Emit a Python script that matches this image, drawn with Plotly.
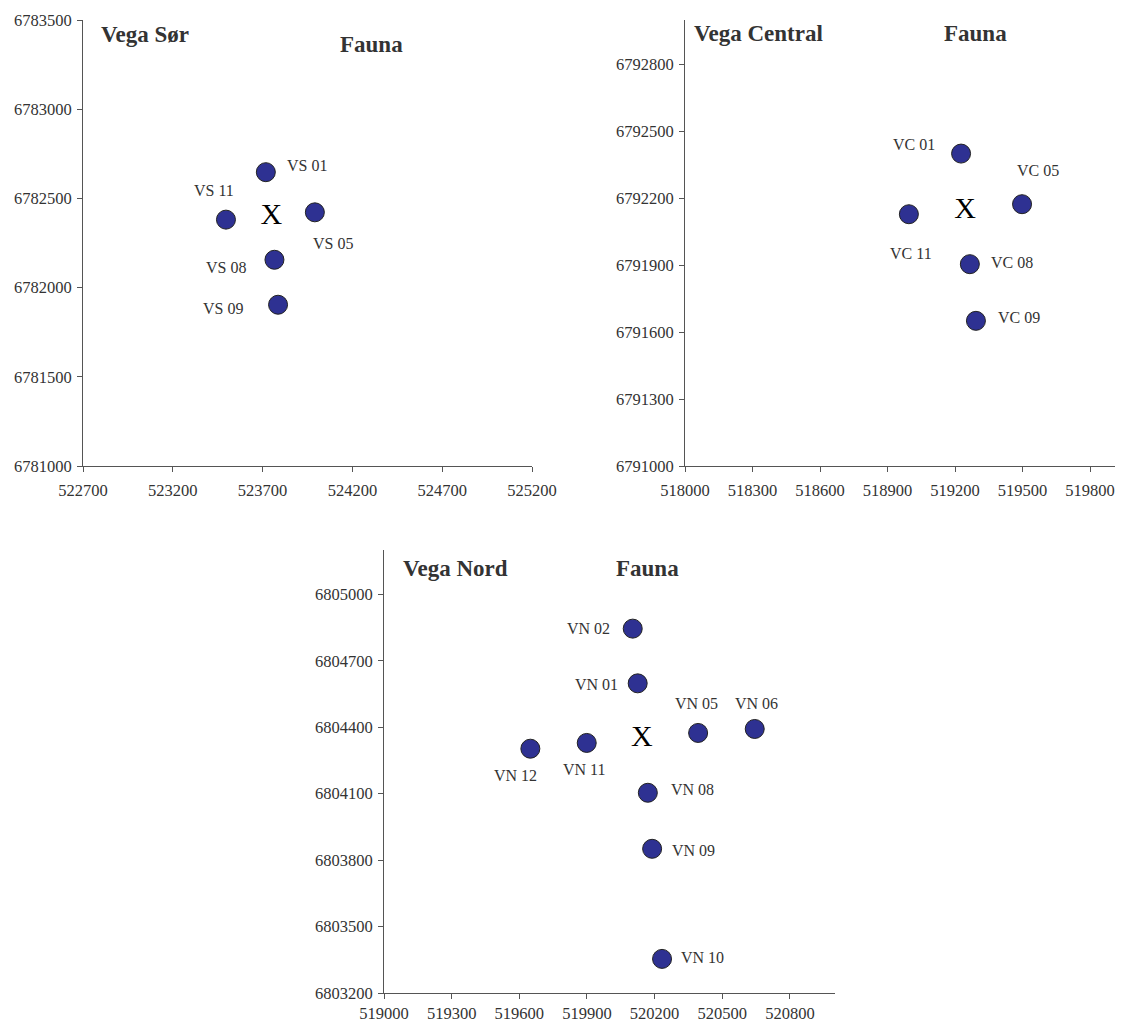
import plotly.graph_objects as go

# ---------------- data ----------------
vs_labels = ["VS 01", "VS 05", "VS 08", "VS 09", "VS 11"]
vs_x = [523718, 523991, 523766, 523786, 523496]
vs_y = [6782647, 6782422, 6782156, 6781904, 6782381]
vs_center_x = [523748]
vs_center_y = [6782396]

vc_labels = ["VC 01", "VC 05", "VC 08", "VC 09", "VC 11"]
vc_x = [519227, 519498, 519266, 519293, 518995]
vc_y = [6792401, 6792174, 6791905, 6791651, 6792129]
vc_center_x = [519245]
vc_center_y = [6792144]

vn_labels = ["VN 01", "VN 02", "VN 05", "VN 06", "VN 08", "VN 09", "VN 10", "VN 11", "VN 12"]
vn_x = [520125, 520103, 520393, 520644, 520170, 520189, 520233, 519899, 519649]
vn_y = [6804598, 6804845, 6804374, 6804392, 6804104, 6803851, 6803354, 6804329, 6804303]
vn_center_x = [520143]
vn_center_y = [6804347]

panel_names = ["Vega Sør", "Vega Central", "Vega Nord"]
panel_subtitle = "Fauna"

# ---------------- style ----------------
W, H = 1123, 1024
OFF = 8  # default page body margin
FONT = "Liberation Serif"
TXT = "#333333"
AX = "#555555"
MARK = "#2E3192"

# label offsets in pixels (dx right, dy down)
vs_off = [(41, -7), (18, 31), (-48, 8), (-55, 4), (-12, -29)]
vc_off = [(-47, -9), (16, -34), (42, -2), (43, -3), (2, 39)]
vn_off = [(-41, 1), (-44, 0), (-2, -29), (2, -25), (45, -3), (41, 2), (40, -1), (-2, 27), (-15, 27)]

def px_x(p):
    return (p - OFF) / W

def px_y(p):
    return 1 - (p - OFF) / H

panels = [
    dict(xs=vs_x, ys=vs_y, labels=vs_labels, off=vs_off, cx=vs_center_x, cy=vs_center_y,
         xdom=[px_x(83), px_x(532)], ydom=[px_y(466), px_y(20)],
         xr=[522700, 525200], yr=[6781000, 6783500], xt0=522700, xd=500, yt0=6781000, yd=500,
         xstand=4, title_pos=(99, 34), fauna_pos=(371, 44)),
    dict(xs=vc_x, ys=vc_y, labels=vc_labels, off=vc_off, cx=vc_center_x, cy=vc_center_y,
         xdom=[px_x(685), px_x(1123)], ydom=[px_y(466), px_y(20)],
         xr=[518000, 518000 + (1123 - 685) / 0.225], yr=[6791000, 6793000], xt0=518000, xd=300, yt0=6791000, yd=300,
         xstand=4, title_pos=(692, 33), fauna_pos=(975, 33)),
    dict(xs=vn_x, ys=vn_y, labels=vn_labels, off=vn_off, cx=vn_center_x, cy=vn_center_y,
         xdom=[px_x(384), px_x(835)], ydom=[px_y(993), px_y(550)],
         xr=[519000, 521000], yr=[6803200, 6805200], xt0=519000, xd=300, yt0=6803200, yd=300,
         xstand=0, title_pos=(401, 568), fauna_pos=(647, 568)),
]

fig = go.Figure()
annotations = []

for i, p in enumerate(panels):
    n = "" if i == 0 else str(i + 1)
    xa, ya = "x" + n, "y" + n
    fig.add_trace(go.Scatter(
        x=p["xs"], y=p["ys"], mode="markers", xaxis=xa, yaxis=ya,
        marker=dict(size=19, color=MARK, line=dict(color="#222222", width=1)),
        showlegend=False, hoverinfo="skip", cliponaxis=False))
    fig.add_trace(go.Scatter(
        x=p["cx"], y=p["cy"], mode="text", text=["X"], xaxis=xa, yaxis=ya,
        textfont=dict(family=FONT, size=30, color="#000000"),
        showlegend=False, hoverinfo="skip", cliponaxis=False))
    for lab, xv, yv, (dx, dy) in zip(p["labels"], p["xs"], p["ys"], p["off"]):
        annotations.append(dict(
            x=xv, y=yv, xref=xa, yref=ya, text=lab, showarrow=False,
            xshift=dx, yshift=-dy, font=dict(family=FONT, size=16, color=TXT)))
    tx, ty = p["title_pos"]
    annotations.append(dict(
        x=px_x(tx), y=px_y(ty), xref="paper", yref="paper", xanchor="left", yanchor="middle",
        text="<b>" + panel_names[i] + "</b>", showarrow=False,
        font=dict(family=FONT, size=23, color=TXT)))
    fx, fy = p["fauna_pos"]
    annotations.append(dict(
        x=px_x(fx), y=px_y(fy), xref="paper", yref="paper", xanchor="center", yanchor="middle",
        text="<b>" + panel_subtitle + "</b>", showarrow=False,
        font=dict(family=FONT, size=23, color=TXT)))

    axis_common = dict(showline=True, linecolor=AX, linewidth=1, ticks="outside", ticklen=5,
                       tickcolor=AX, tickwidth=1, showgrid=False, zeroline=False,
                       automargin=False, tickformat="d",
                       tickfont=dict(family=FONT, size=16.5, color=TXT),
                       fixedrange=True)
    fig.update_layout(**{
        "xaxis" + n: dict(domain=p["xdom"], range=p["xr"], tick0=p["xt0"], dtick=p["xd"],
                          anchor=ya, ticklabelstandoff=p["xstand"], **axis_common),
        "yaxis" + n: dict(domain=p["ydom"], range=p["yr"], tick0=p["yt0"], dtick=p["yd"],
                          anchor=xa, ticklabelstandoff=2, **axis_common),
    })

fig.update_layout(
    template="none",
    width=W, height=H, margin=dict(l=0, r=0, t=0, b=0, autoexpand=False),
    paper_bgcolor="white", plot_bgcolor="white",
    annotations=annotations, showlegend=False,
)

fig.write_html("out.html")
